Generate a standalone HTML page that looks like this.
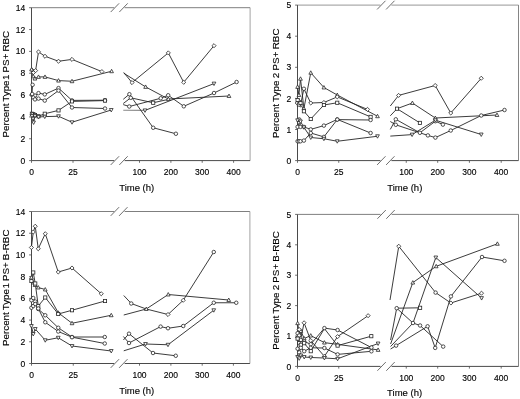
<!DOCTYPE html>
<html><head><meta charset="utf-8"><title>PS+ RBC time course</title>
<style>
html,body{margin:0;padding:0;background:#fff;}
body{width:520px;height:399px;overflow:hidden;font-family:"Liberation Sans",sans-serif;}
svg{display:block;filter:blur(0.35px);}
svg text{font-family:"Liberation Sans",sans-serif;fill:#000;stroke:#000;stroke-width:0.13px;}
.t{font-size:8.5px;}
.a{font-size:9.5px;}
</style></head><body>
<svg width="520" height="399" viewBox="0 0 520 399">
<rect width="520" height="399" fill="#fff"/>
<path d="M123.25 110.30L145.00 110.40" stroke="#8a8a8a" stroke-width="1.1"/>
<path d="M31.50 7.70H114.20M124.60 7.70H250.10" fill="none" stroke="#5e5e5e" stroke-width="0.8"/>
<path d="M250.10 7.70V160.60" fill="none" stroke="#8c8c8c" stroke-width="0.8"/>
<path d="M31.50 7.70V160.60H114.20M124.60 160.60H250.10" fill="none" stroke="#4a4a4a" stroke-width="1"/>
<path d="M110.70 12.05L119.10 3.35" stroke="#4a4a4a" stroke-width="0.8"/>
<path d="M119.30 12.05L127.70 3.35" stroke="#4a4a4a" stroke-width="0.8"/>
<path d="M110.70 164.95L119.10 156.25" stroke="#4a4a4a" stroke-width="0.8"/>
<path d="M119.30 164.95L127.70 156.25" stroke="#4a4a4a" stroke-width="0.8"/>
<path d="M29.10 160.60H31.50" stroke="#4a4a4a" stroke-width="0.8"/>
<text x="25.20" y="163.70" text-anchor="end" class="t">0</text>
<path d="M29.10 138.76H31.50" stroke="#4a4a4a" stroke-width="0.8"/>
<text x="25.20" y="141.86" text-anchor="end" class="t">2</text>
<path d="M29.10 116.92H31.50" stroke="#4a4a4a" stroke-width="0.8"/>
<text x="25.20" y="120.02" text-anchor="end" class="t">4</text>
<path d="M29.10 95.07H31.50" stroke="#4a4a4a" stroke-width="0.8"/>
<text x="25.20" y="98.17" text-anchor="end" class="t">6</text>
<path d="M29.10 73.23H31.50" stroke="#4a4a4a" stroke-width="0.8"/>
<text x="25.20" y="76.33" text-anchor="end" class="t">8</text>
<path d="M29.10 51.39H31.50" stroke="#4a4a4a" stroke-width="0.8"/>
<text x="25.20" y="54.49" text-anchor="end" class="t">10</text>
<path d="M29.10 29.55H31.50" stroke="#4a4a4a" stroke-width="0.8"/>
<text x="25.20" y="32.65" text-anchor="end" class="t">12</text>
<path d="M29.10 7.71H31.50" stroke="#4a4a4a" stroke-width="0.8"/>
<text x="25.20" y="10.81" text-anchor="end" class="t">14</text>
<path d="M31.50 160.60V162.80" stroke="#4a4a4a" stroke-width="0.8"/>
<text x="31.50" y="174.80" text-anchor="middle" class="t">0</text>
<path d="M73.00 160.60V162.80" stroke="#4a4a4a" stroke-width="0.8"/>
<text x="73.00" y="174.80" text-anchor="middle" class="t">25</text>
<path d="M139.50 160.60V162.80" stroke="#4a4a4a" stroke-width="0.8"/>
<text x="139.50" y="174.80" text-anchor="middle" class="t">100</text>
<path d="M170.90 160.60V162.80" stroke="#4a4a4a" stroke-width="0.8"/>
<text x="170.90" y="174.80" text-anchor="middle" class="t">200</text>
<path d="M202.20 160.60V162.80" stroke="#4a4a4a" stroke-width="0.8"/>
<text x="202.20" y="174.80" text-anchor="middle" class="t">300</text>
<path d="M233.60 160.60V162.80" stroke="#4a4a4a" stroke-width="0.8"/>
<text x="233.60" y="174.80" text-anchor="middle" class="t">400</text>
<text x="136.70" y="190.90" text-anchor="middle" class="a">Time (h)</text>
<text transform="translate(9.00 84.15) rotate(-90)" text-anchor="middle" class="a" style="font-size:9.85px;word-spacing:-0.70px">Percent Type<tspan dx="-1.6"> 1</tspan> PS+ RBC</text>
<path d="M31.90 70.00L33.40 72.60L35.60 70.60L38.50 51.90L45.00 56.25L58.50 61.25L72.00 59.40L101.90 71.60" fill="none" stroke="#262626" stroke-width="0.90" stroke-linejoin="round"/>
<path d="M31.60 69.50L33.30 76.40L34.90 78.60L38.50 76.90L45.00 76.90L58.50 80.60L72.00 81.25L111.60 71.25" fill="none" stroke="#262626" stroke-width="0.90" stroke-linejoin="round"/>
<path d="M32.60 84.80L31.90 95.00L35.00 95.60L38.50 93.10L44.75 94.40L58.50 88.10L72.00 100.40L105.00 100.20" fill="none" stroke="#262626" stroke-width="0.90" stroke-linejoin="round"/>
<path d="M32.20 94.00L33.40 97.50L35.00 99.40L38.50 98.60L44.75 100.60L58.50 90.60L72.00 107.50L105.00 108.50" fill="none" stroke="#262626" stroke-width="0.90" stroke-linejoin="round"/>
<path d="M31.90 113.75L33.40 114.20L35.00 115.00L38.50 116.25L44.75 113.75L58.50 110.40L72.00 101.40L105.00 100.60" fill="none" stroke="#262626" stroke-width="0.90" stroke-linejoin="round"/>
<path d="M32.00 116.00L33.00 118.75L33.60 122.50L35.00 116.00L38.50 117.00L44.75 116.60L58.50 116.25L72.00 122.25L111.25 110.00" fill="none" stroke="#262626" stroke-width="0.90" stroke-linejoin="round"/>
<path d="M123.75 72.50L132.00 82.60L168.30 52.90L183.70 82.30L214.00 45.70" fill="none" stroke="#262626" stroke-width="0.90" stroke-linejoin="round"/>
<path d="M123.75 73.20L145.60 86.90L168.30 99.00L229.00 96.00" fill="none" stroke="#262626" stroke-width="0.90" stroke-linejoin="round"/>
<path d="M123.25 99.30L129.40 94.20L153.20 127.75L175.90 133.75" fill="none" stroke="#262626" stroke-width="0.90" stroke-linejoin="round"/>
<path d="M123.25 103.50L130.75 97.80L153.20 102.75L168.30 99.40" fill="none" stroke="#262626" stroke-width="0.90" stroke-linejoin="round"/>
<path d="M123.25 104.60L129.25 106.50L160.75 98.25L168.20 95.25L183.80 106.30L214.00 93.00L236.60 82.00" fill="none" stroke="#262626" stroke-width="0.90" stroke-linejoin="round"/>
<path d="M145.00 110.40L214.00 83.60" fill="none" stroke="#262626" stroke-width="0.90" stroke-linejoin="round"/>
<path d="M31.90 67.95L33.95 70.00L31.90 72.05L29.85 70.00Z" fill="#fff" stroke="#262626" stroke-width="0.80"/>
<path d="M33.40 70.55L35.45 72.60L33.40 74.65L31.35 72.60Z" fill="#fff" stroke="#262626" stroke-width="0.80"/>
<path d="M35.60 68.55L37.65 70.60L35.60 72.65L33.55 70.60Z" fill="#fff" stroke="#262626" stroke-width="0.80"/>
<path d="M38.50 49.85L40.55 51.90L38.50 53.95L36.45 51.90Z" fill="#fff" stroke="#262626" stroke-width="0.80"/>
<path d="M45.00 54.20L47.05 56.25L45.00 58.30L42.95 56.25Z" fill="#fff" stroke="#262626" stroke-width="0.80"/>
<path d="M58.50 59.20L60.55 61.25L58.50 63.30L56.45 61.25Z" fill="#fff" stroke="#262626" stroke-width="0.80"/>
<path d="M72.00 57.35L74.05 59.40L72.00 61.45L69.95 59.40Z" fill="#fff" stroke="#262626" stroke-width="0.80"/>
<path d="M101.90 69.55L103.95 71.60L101.90 73.65L99.85 71.60Z" fill="#fff" stroke="#262626" stroke-width="0.80"/>
<path d="M31.60 67.55L33.45 70.96L29.75 70.96Z" fill="#fff" stroke="#262626" stroke-width="0.80"/>
<path d="M33.30 74.45L35.15 77.86L31.45 77.86Z" fill="#fff" stroke="#262626" stroke-width="0.80"/>
<path d="M34.90 76.65L36.75 80.06L33.05 80.06Z" fill="#fff" stroke="#262626" stroke-width="0.80"/>
<path d="M38.50 74.95L40.35 78.36L36.65 78.36Z" fill="#fff" stroke="#262626" stroke-width="0.80"/>
<path d="M45.00 74.95L46.85 78.36L43.15 78.36Z" fill="#fff" stroke="#262626" stroke-width="0.80"/>
<path d="M58.50 78.65L60.35 82.06L56.65 82.06Z" fill="#fff" stroke="#262626" stroke-width="0.80"/>
<path d="M72.00 79.30L73.85 82.71L70.15 82.71Z" fill="#fff" stroke="#262626" stroke-width="0.80"/>
<path d="M111.60 69.30L113.45 72.71L109.75 72.71Z" fill="#fff" stroke="#262626" stroke-width="0.80"/>
<circle cx="32.60" cy="84.80" r="1.75" fill="#fff" stroke="#262626" stroke-width="0.80"/>
<circle cx="31.90" cy="95.00" r="1.75" fill="#fff" stroke="#262626" stroke-width="0.80"/>
<circle cx="35.00" cy="95.60" r="1.75" fill="#fff" stroke="#262626" stroke-width="0.80"/>
<circle cx="38.50" cy="93.10" r="1.75" fill="#fff" stroke="#262626" stroke-width="0.80"/>
<circle cx="44.75" cy="94.40" r="1.75" fill="#fff" stroke="#262626" stroke-width="0.80"/>
<circle cx="58.50" cy="88.10" r="1.75" fill="#fff" stroke="#262626" stroke-width="0.80"/>
<circle cx="72.00" cy="100.40" r="1.75" fill="#fff" stroke="#262626" stroke-width="0.80"/>
<circle cx="105.00" cy="100.20" r="1.75" fill="#fff" stroke="#262626" stroke-width="0.80"/>
<circle cx="32.20" cy="94.00" r="1.75" fill="#fff" stroke="#262626" stroke-width="0.80"/>
<circle cx="33.40" cy="97.50" r="1.75" fill="#fff" stroke="#262626" stroke-width="0.80"/>
<circle cx="35.00" cy="99.40" r="1.75" fill="#fff" stroke="#262626" stroke-width="0.80"/>
<circle cx="38.50" cy="98.60" r="1.75" fill="#fff" stroke="#262626" stroke-width="0.80"/>
<circle cx="44.75" cy="100.60" r="1.75" fill="#fff" stroke="#262626" stroke-width="0.80"/>
<circle cx="58.50" cy="90.60" r="1.75" fill="#fff" stroke="#262626" stroke-width="0.80"/>
<circle cx="72.00" cy="107.50" r="1.75" fill="#fff" stroke="#262626" stroke-width="0.80"/>
<circle cx="105.00" cy="108.50" r="1.75" fill="#fff" stroke="#262626" stroke-width="0.80"/>
<rect x="30.30" y="112.15" width="3.20" height="3.20" fill="#fff" stroke="#262626" stroke-width="0.80"/>
<rect x="31.80" y="112.60" width="3.20" height="3.20" fill="#fff" stroke="#262626" stroke-width="0.80"/>
<rect x="33.40" y="113.40" width="3.20" height="3.20" fill="#fff" stroke="#262626" stroke-width="0.80"/>
<rect x="36.90" y="114.65" width="3.20" height="3.20" fill="#fff" stroke="#262626" stroke-width="0.80"/>
<rect x="43.15" y="112.15" width="3.20" height="3.20" fill="#fff" stroke="#262626" stroke-width="0.80"/>
<rect x="56.90" y="108.80" width="3.20" height="3.20" fill="#fff" stroke="#262626" stroke-width="0.80"/>
<rect x="70.40" y="99.80" width="3.20" height="3.20" fill="#fff" stroke="#262626" stroke-width="0.80"/>
<rect x="103.40" y="99.00" width="3.20" height="3.20" fill="#fff" stroke="#262626" stroke-width="0.80"/>
<path d="M32.00 117.95L33.85 114.54L30.15 114.54Z" fill="#fff" stroke="#262626" stroke-width="0.80"/>
<path d="M33.00 120.70L34.85 117.29L31.15 117.29Z" fill="#fff" stroke="#262626" stroke-width="0.80"/>
<path d="M33.60 124.45L35.45 121.04L31.75 121.04Z" fill="#fff" stroke="#262626" stroke-width="0.80"/>
<path d="M35.00 117.95L36.85 114.54L33.15 114.54Z" fill="#fff" stroke="#262626" stroke-width="0.80"/>
<path d="M38.50 118.95L40.35 115.54L36.65 115.54Z" fill="#fff" stroke="#262626" stroke-width="0.80"/>
<path d="M44.75 118.55L46.60 115.14L42.90 115.14Z" fill="#fff" stroke="#262626" stroke-width="0.80"/>
<path d="M58.50 118.20L60.35 114.79L56.65 114.79Z" fill="#fff" stroke="#262626" stroke-width="0.80"/>
<path d="M72.00 124.20L73.85 120.79L70.15 120.79Z" fill="#fff" stroke="#262626" stroke-width="0.80"/>
<path d="M111.25 111.95L113.10 108.54L109.40 108.54Z" fill="#fff" stroke="#262626" stroke-width="0.80"/>
<path d="M132.00 80.55L134.05 82.60L132.00 84.65L129.95 82.60Z" fill="#fff" stroke="#262626" stroke-width="0.80"/>
<path d="M168.30 50.85L170.35 52.90L168.30 54.95L166.25 52.90Z" fill="#fff" stroke="#262626" stroke-width="0.80"/>
<path d="M183.70 80.25L185.75 82.30L183.70 84.35L181.65 82.30Z" fill="#fff" stroke="#262626" stroke-width="0.80"/>
<path d="M214.00 43.65L216.05 45.70L214.00 47.75L211.95 45.70Z" fill="#fff" stroke="#262626" stroke-width="0.80"/>
<path d="M145.60 84.95L147.45 88.36L143.75 88.36Z" fill="#fff" stroke="#262626" stroke-width="0.80"/>
<path d="M168.30 97.05L170.15 100.46L166.45 100.46Z" fill="#fff" stroke="#262626" stroke-width="0.80"/>
<path d="M229.00 94.05L230.85 97.46L227.15 97.46Z" fill="#fff" stroke="#262626" stroke-width="0.80"/>
<circle cx="129.40" cy="94.20" r="1.75" fill="#fff" stroke="#262626" stroke-width="0.80"/>
<circle cx="153.20" cy="127.75" r="1.75" fill="#fff" stroke="#262626" stroke-width="0.80"/>
<circle cx="175.90" cy="133.75" r="1.75" fill="#fff" stroke="#262626" stroke-width="0.80"/>
<circle cx="130.75" cy="97.80" r="1.75" fill="#fff" stroke="#262626" stroke-width="0.80"/>
<rect x="151.60" y="101.15" width="3.20" height="3.20" fill="#fff" stroke="#262626" stroke-width="0.80"/>
<circle cx="129.25" cy="106.50" r="1.75" fill="#fff" stroke="#262626" stroke-width="0.80"/>
<circle cx="160.75" cy="98.25" r="1.75" fill="#fff" stroke="#262626" stroke-width="0.80"/>
<circle cx="168.20" cy="95.25" r="1.75" fill="#fff" stroke="#262626" stroke-width="0.80"/>
<circle cx="183.80" cy="106.30" r="1.75" fill="#fff" stroke="#262626" stroke-width="0.80"/>
<circle cx="214.00" cy="93.00" r="1.75" fill="#fff" stroke="#262626" stroke-width="0.80"/>
<circle cx="236.60" cy="82.00" r="1.75" fill="#fff" stroke="#262626" stroke-width="0.80"/>
<path d="M145.00 112.35L146.85 108.94L143.15 108.94Z" fill="#fff" stroke="#262626" stroke-width="0.80"/>
<path d="M214.00 85.55L215.85 82.14L212.15 82.14Z" fill="#fff" stroke="#262626" stroke-width="0.80"/>
<path d="M297.50 5.10H380.40M391.40 5.10H518.50" fill="none" stroke="#7c7c7c" stroke-width="0.8"/>
<path d="M518.50 5.10V160.60" fill="none" stroke="#666" stroke-width="0.8"/>
<path d="M297.50 5.10V160.60H380.40M391.40 160.60H518.50" fill="none" stroke="#4a4a4a" stroke-width="1"/>
<path d="M377.10 9.45L385.50 0.75" stroke="#4a4a4a" stroke-width="0.8"/>
<path d="M386.10 9.45L394.50 0.75" stroke="#4a4a4a" stroke-width="0.8"/>
<path d="M377.10 164.95L385.50 156.25" stroke="#4a4a4a" stroke-width="0.8"/>
<path d="M386.10 164.95L394.50 156.25" stroke="#4a4a4a" stroke-width="0.8"/>
<path d="M295.10 160.60H297.50" stroke="#4a4a4a" stroke-width="0.8"/>
<text x="291.20" y="163.70" text-anchor="end" class="t">0</text>
<path d="M295.10 129.50H297.50" stroke="#4a4a4a" stroke-width="0.8"/>
<text x="291.20" y="132.60" text-anchor="end" class="t">1</text>
<path d="M295.10 98.40H297.50" stroke="#4a4a4a" stroke-width="0.8"/>
<text x="291.20" y="101.50" text-anchor="end" class="t">2</text>
<path d="M295.10 67.30H297.50" stroke="#4a4a4a" stroke-width="0.8"/>
<text x="291.20" y="70.40" text-anchor="end" class="t">3</text>
<path d="M295.10 36.20H297.50" stroke="#4a4a4a" stroke-width="0.8"/>
<text x="291.20" y="39.30" text-anchor="end" class="t">4</text>
<path d="M295.10 5.10H297.50" stroke="#4a4a4a" stroke-width="0.8"/>
<text x="291.20" y="8.20" text-anchor="end" class="t">5</text>
<path d="M297.50 160.60V162.80" stroke="#4a4a4a" stroke-width="0.8"/>
<text x="297.50" y="174.90" text-anchor="middle" class="t">0</text>
<path d="M338.75 160.60V162.80" stroke="#4a4a4a" stroke-width="0.8"/>
<text x="338.75" y="174.90" text-anchor="middle" class="t">25</text>
<path d="M406.25 160.60V162.80" stroke="#4a4a4a" stroke-width="0.8"/>
<text x="406.25" y="174.90" text-anchor="middle" class="t">100</text>
<path d="M437.70 160.60V162.80" stroke="#4a4a4a" stroke-width="0.8"/>
<text x="437.70" y="174.90" text-anchor="middle" class="t">200</text>
<path d="M469.40 160.60V162.80" stroke="#4a4a4a" stroke-width="0.8"/>
<text x="469.40" y="174.90" text-anchor="middle" class="t">300</text>
<path d="M501.20 160.60V162.80" stroke="#4a4a4a" stroke-width="0.8"/>
<text x="501.20" y="174.90" text-anchor="middle" class="t">400</text>
<text x="404.80" y="190.90" text-anchor="middle" class="a">Time (h)</text>
<text transform="translate(279.30 83.25) rotate(-90)" text-anchor="middle" class="a" style="font-size:9.85px;word-spacing:-0.40px">Percent Type 2 PS+ RBC</text>
<path d="M297.60 86.90L298.90 95.00L300.50 78.75L303.90 108.50L310.75 72.75L323.90 87.50L337.25 95.00L377.50 116.25" fill="none" stroke="#262626" stroke-width="0.90" stroke-linejoin="round"/>
<path d="M297.20 103.00L298.90 101.00L300.50 105.00L303.90 88.75L310.75 103.00L323.90 102.50L337.25 96.90L367.50 109.40" fill="none" stroke="#262626" stroke-width="0.90" stroke-linejoin="round"/>
<path d="M297.60 100.00L298.90 104.50L300.50 103.00L303.90 111.25L310.75 119.00L323.90 105.00L337.25 102.75L370.60 116.90" fill="none" stroke="#262626" stroke-width="0.90" stroke-linejoin="round"/>
<path d="M297.60 126.90L299.30 119.50L300.50 126.90L303.90 126.90L310.75 129.40L323.90 125.60L337.25 119.40L370.60 133.00" fill="none" stroke="#262626" stroke-width="0.90" stroke-linejoin="round"/>
<path d="M297.60 141.25L299.00 141.30L300.50 141.25L303.90 140.60L310.75 133.00L323.90 136.90L337.25 119.60L370.60 120.00" fill="none" stroke="#262626" stroke-width="0.90" stroke-linejoin="round"/>
<path d="M297.60 120.30L298.90 123.00L300.50 121.50L303.90 127.30L310.75 137.50L323.90 138.75L337.25 141.25L377.50 136.25" fill="none" stroke="#262626" stroke-width="0.90" stroke-linejoin="round"/>
<path d="M390.30 106.00L398.60 95.40L435.20 85.50L450.75 113.00L481.25 78.25" fill="none" stroke="#262626" stroke-width="0.90" stroke-linejoin="round"/>
<path d="M397.00 108.70L412.40 103.00L435.30 118.00L497.00 115.00" fill="none" stroke="#262626" stroke-width="0.90" stroke-linejoin="round"/>
<path d="M390.30 115.80L397.00 108.70L419.90 122.90" fill="none" stroke="#262626" stroke-width="0.90" stroke-linejoin="round"/>
<path d="M390.30 129.40L395.80 119.30L419.90 132.80L427.90 135.40L435.40 137.60L450.75 130.50L481.25 115.50L504.50 110.00" fill="none" stroke="#262626" stroke-width="0.90" stroke-linejoin="round"/>
<path d="M390.30 121.50L395.80 124.80L419.90 132.80L435.40 121.20L442.90 124.60" fill="none" stroke="#262626" stroke-width="0.90" stroke-linejoin="round"/>
<path d="M390.30 136.10L412.10 134.60L435.40 120.20L481.25 134.50" fill="none" stroke="#262626" stroke-width="0.90" stroke-linejoin="round"/>
<path d="M297.60 84.95L299.45 88.36L295.75 88.36Z" fill="#fff" stroke="#262626" stroke-width="0.80"/>
<path d="M298.90 93.05L300.75 96.46L297.05 96.46Z" fill="#fff" stroke="#262626" stroke-width="0.80"/>
<path d="M300.50 76.80L302.35 80.21L298.65 80.21Z" fill="#fff" stroke="#262626" stroke-width="0.80"/>
<path d="M303.90 106.55L305.75 109.96L302.05 109.96Z" fill="#fff" stroke="#262626" stroke-width="0.80"/>
<path d="M310.75 70.80L312.60 74.21L308.90 74.21Z" fill="#fff" stroke="#262626" stroke-width="0.80"/>
<path d="M323.90 85.55L325.75 88.96L322.05 88.96Z" fill="#fff" stroke="#262626" stroke-width="0.80"/>
<path d="M337.25 93.05L339.10 96.46L335.40 96.46Z" fill="#fff" stroke="#262626" stroke-width="0.80"/>
<path d="M377.50 114.30L379.35 117.71L375.65 117.71Z" fill="#fff" stroke="#262626" stroke-width="0.80"/>
<path d="M297.20 100.95L299.25 103.00L297.20 105.05L295.15 103.00Z" fill="#fff" stroke="#262626" stroke-width="0.80"/>
<path d="M298.90 98.95L300.95 101.00L298.90 103.05L296.85 101.00Z" fill="#fff" stroke="#262626" stroke-width="0.80"/>
<path d="M300.50 102.95L302.55 105.00L300.50 107.05L298.45 105.00Z" fill="#fff" stroke="#262626" stroke-width="0.80"/>
<circle cx="303.90" cy="88.75" r="1.75" fill="#fff" stroke="#262626" stroke-width="0.80"/>
<path d="M310.75 100.95L312.80 103.00L310.75 105.05L308.70 103.00Z" fill="#fff" stroke="#262626" stroke-width="0.80"/>
<path d="M323.90 100.45L325.95 102.50L323.90 104.55L321.85 102.50Z" fill="#fff" stroke="#262626" stroke-width="0.80"/>
<path d="M337.25 94.85L339.30 96.90L337.25 98.95L335.20 96.90Z" fill="#fff" stroke="#262626" stroke-width="0.80"/>
<path d="M367.50 107.35L369.55 109.40L367.50 111.45L365.45 109.40Z" fill="#fff" stroke="#262626" stroke-width="0.80"/>
<rect x="296.00" y="98.40" width="3.20" height="3.20" fill="#fff" stroke="#262626" stroke-width="0.80"/>
<rect x="297.30" y="102.90" width="3.20" height="3.20" fill="#fff" stroke="#262626" stroke-width="0.80"/>
<rect x="298.90" y="101.40" width="3.20" height="3.20" fill="#fff" stroke="#262626" stroke-width="0.80"/>
<rect x="302.30" y="109.65" width="3.20" height="3.20" fill="#fff" stroke="#262626" stroke-width="0.80"/>
<rect x="309.15" y="117.40" width="3.20" height="3.20" fill="#fff" stroke="#262626" stroke-width="0.80"/>
<rect x="322.30" y="103.40" width="3.20" height="3.20" fill="#fff" stroke="#262626" stroke-width="0.80"/>
<rect x="335.65" y="101.15" width="3.20" height="3.20" fill="#fff" stroke="#262626" stroke-width="0.80"/>
<rect x="369.00" y="115.30" width="3.20" height="3.20" fill="#fff" stroke="#262626" stroke-width="0.80"/>
<circle cx="297.60" cy="126.90" r="1.75" fill="#fff" stroke="#262626" stroke-width="0.80"/>
<circle cx="299.30" cy="119.50" r="1.75" fill="#fff" stroke="#262626" stroke-width="0.80"/>
<circle cx="300.50" cy="126.90" r="1.75" fill="#fff" stroke="#262626" stroke-width="0.80"/>
<circle cx="303.90" cy="126.90" r="1.75" fill="#fff" stroke="#262626" stroke-width="0.80"/>
<circle cx="310.75" cy="129.40" r="1.75" fill="#fff" stroke="#262626" stroke-width="0.80"/>
<circle cx="323.90" cy="125.60" r="1.75" fill="#fff" stroke="#262626" stroke-width="0.80"/>
<circle cx="337.25" cy="119.40" r="1.75" fill="#fff" stroke="#262626" stroke-width="0.80"/>
<circle cx="370.60" cy="133.00" r="1.75" fill="#fff" stroke="#262626" stroke-width="0.80"/>
<circle cx="297.60" cy="141.25" r="1.75" fill="#fff" stroke="#262626" stroke-width="0.80"/>
<circle cx="299.00" cy="141.30" r="1.75" fill="#fff" stroke="#262626" stroke-width="0.80"/>
<circle cx="300.50" cy="141.25" r="1.75" fill="#fff" stroke="#262626" stroke-width="0.80"/>
<circle cx="303.90" cy="140.60" r="1.75" fill="#fff" stroke="#262626" stroke-width="0.80"/>
<circle cx="310.75" cy="133.00" r="1.75" fill="#fff" stroke="#262626" stroke-width="0.80"/>
<circle cx="323.90" cy="136.90" r="1.75" fill="#fff" stroke="#262626" stroke-width="0.80"/>
<circle cx="337.25" cy="119.60" r="1.75" fill="#fff" stroke="#262626" stroke-width="0.80"/>
<circle cx="370.60" cy="120.00" r="1.75" fill="#fff" stroke="#262626" stroke-width="0.80"/>
<path d="M297.60 122.25L299.45 118.84L295.75 118.84Z" fill="#fff" stroke="#262626" stroke-width="0.80"/>
<path d="M298.90 124.95L300.75 121.54L297.05 121.54Z" fill="#fff" stroke="#262626" stroke-width="0.80"/>
<path d="M300.50 123.45L302.35 120.04L298.65 120.04Z" fill="#fff" stroke="#262626" stroke-width="0.80"/>
<path d="M303.90 129.25L305.75 125.84L302.05 125.84Z" fill="#fff" stroke="#262626" stroke-width="0.80"/>
<path d="M310.75 139.45L312.60 136.04L308.90 136.04Z" fill="#fff" stroke="#262626" stroke-width="0.80"/>
<path d="M323.90 140.70L325.75 137.29L322.05 137.29Z" fill="#fff" stroke="#262626" stroke-width="0.80"/>
<path d="M337.25 143.20L339.10 139.79L335.40 139.79Z" fill="#fff" stroke="#262626" stroke-width="0.80"/>
<path d="M377.50 138.20L379.35 134.79L375.65 134.79Z" fill="#fff" stroke="#262626" stroke-width="0.80"/>
<path d="M398.60 93.35L400.65 95.40L398.60 97.45L396.55 95.40Z" fill="#fff" stroke="#262626" stroke-width="0.80"/>
<path d="M435.20 83.45L437.25 85.50L435.20 87.55L433.15 85.50Z" fill="#fff" stroke="#262626" stroke-width="0.80"/>
<path d="M450.75 110.95L452.80 113.00L450.75 115.05L448.70 113.00Z" fill="#fff" stroke="#262626" stroke-width="0.80"/>
<path d="M481.25 76.20L483.30 78.25L481.25 80.30L479.20 78.25Z" fill="#fff" stroke="#262626" stroke-width="0.80"/>
<path d="M412.40 101.05L414.25 104.46L410.55 104.46Z" fill="#fff" stroke="#262626" stroke-width="0.80"/>
<path d="M435.30 116.05L437.15 119.46L433.45 119.46Z" fill="#fff" stroke="#262626" stroke-width="0.80"/>
<path d="M497.00 113.05L498.85 116.46L495.15 116.46Z" fill="#fff" stroke="#262626" stroke-width="0.80"/>
<rect x="395.40" y="107.10" width="3.20" height="3.20" fill="#fff" stroke="#262626" stroke-width="0.80"/>
<rect x="418.30" y="121.30" width="3.20" height="3.20" fill="#fff" stroke="#262626" stroke-width="0.80"/>
<circle cx="395.80" cy="119.30" r="1.75" fill="#fff" stroke="#262626" stroke-width="0.80"/>
<circle cx="419.90" cy="132.80" r="1.75" fill="#fff" stroke="#262626" stroke-width="0.80"/>
<circle cx="427.90" cy="135.40" r="1.75" fill="#fff" stroke="#262626" stroke-width="0.80"/>
<circle cx="435.40" cy="137.60" r="1.75" fill="#fff" stroke="#262626" stroke-width="0.80"/>
<circle cx="450.75" cy="130.50" r="1.75" fill="#fff" stroke="#262626" stroke-width="0.80"/>
<circle cx="481.25" cy="115.50" r="1.75" fill="#fff" stroke="#262626" stroke-width="0.80"/>
<circle cx="504.50" cy="110.00" r="1.75" fill="#fff" stroke="#262626" stroke-width="0.80"/>
<circle cx="395.80" cy="124.80" r="1.75" fill="#fff" stroke="#262626" stroke-width="0.80"/>
<circle cx="435.40" cy="121.20" r="1.75" fill="#fff" stroke="#262626" stroke-width="0.80"/>
<circle cx="442.90" cy="124.60" r="1.75" fill="#fff" stroke="#262626" stroke-width="0.80"/>
<path d="M412.10 136.55L413.95 133.14L410.25 133.14Z" fill="#fff" stroke="#262626" stroke-width="0.80"/>
<path d="M435.40 122.15L437.25 118.74L433.55 118.74Z" fill="#fff" stroke="#262626" stroke-width="0.80"/>
<path d="M481.25 136.45L483.10 133.04L479.40 133.04Z" fill="#fff" stroke="#262626" stroke-width="0.80"/>
<path d="M31.50 211.50H114.20M124.60 211.50H249.90" fill="none" stroke="#5e5e5e" stroke-width="0.8"/>
<path d="M249.90 211.50V363.50" fill="none" stroke="#8c8c8c" stroke-width="0.8"/>
<path d="M31.50 211.50V363.50H114.20M124.60 363.50H249.90" fill="none" stroke="#4a4a4a" stroke-width="1"/>
<path d="M110.70 215.85L119.10 207.15" stroke="#4a4a4a" stroke-width="0.8"/>
<path d="M119.10 215.85L127.50 207.15" stroke="#4a4a4a" stroke-width="0.8"/>
<path d="M110.70 367.85L119.10 359.15" stroke="#4a4a4a" stroke-width="0.8"/>
<path d="M119.10 367.85L127.50 359.15" stroke="#4a4a4a" stroke-width="0.8"/>
<path d="M29.10 363.50H31.50" stroke="#4a4a4a" stroke-width="0.8"/>
<text x="25.20" y="366.60" text-anchor="end" class="t">0</text>
<path d="M29.10 341.79H31.50" stroke="#4a4a4a" stroke-width="0.8"/>
<text x="25.20" y="344.89" text-anchor="end" class="t">2</text>
<path d="M29.10 320.07H31.50" stroke="#4a4a4a" stroke-width="0.8"/>
<text x="25.20" y="323.17" text-anchor="end" class="t">4</text>
<path d="M29.10 298.36H31.50" stroke="#4a4a4a" stroke-width="0.8"/>
<text x="25.20" y="301.46" text-anchor="end" class="t">6</text>
<path d="M29.10 276.64H31.50" stroke="#4a4a4a" stroke-width="0.8"/>
<text x="25.20" y="279.74" text-anchor="end" class="t">8</text>
<path d="M29.10 254.93H31.50" stroke="#4a4a4a" stroke-width="0.8"/>
<text x="25.20" y="258.03" text-anchor="end" class="t">10</text>
<path d="M29.10 233.22H31.50" stroke="#4a4a4a" stroke-width="0.8"/>
<text x="25.20" y="236.32" text-anchor="end" class="t">12</text>
<path d="M29.10 211.50H31.50" stroke="#4a4a4a" stroke-width="0.8"/>
<text x="25.20" y="214.60" text-anchor="end" class="t">14</text>
<path d="M31.50 363.50V365.70" stroke="#4a4a4a" stroke-width="0.8"/>
<text x="31.50" y="377.50" text-anchor="middle" class="t">0</text>
<path d="M73.25 363.50V365.70" stroke="#4a4a4a" stroke-width="0.8"/>
<text x="73.25" y="377.50" text-anchor="middle" class="t">25</text>
<path d="M139.50 363.50V365.70" stroke="#4a4a4a" stroke-width="0.8"/>
<text x="139.50" y="377.50" text-anchor="middle" class="t">100</text>
<path d="M170.90 363.50V365.70" stroke="#4a4a4a" stroke-width="0.8"/>
<text x="170.90" y="377.50" text-anchor="middle" class="t">200</text>
<path d="M202.20 363.50V365.70" stroke="#4a4a4a" stroke-width="0.8"/>
<text x="202.20" y="377.50" text-anchor="middle" class="t">300</text>
<path d="M233.40 363.50V365.70" stroke="#4a4a4a" stroke-width="0.8"/>
<text x="233.40" y="377.50" text-anchor="middle" class="t">400</text>
<text x="136.70" y="393.60" text-anchor="middle" class="a">Time (h)</text>
<text transform="translate(9.00 287.80) rotate(-90)" text-anchor="middle" class="a" style="font-size:9.85px;word-spacing:-0.70px">Percent Type<tspan dx="-1.6"> 1</tspan> PS+ B-RBC</text>
<path d="M31.40 247.50L33.25 232.00L35.25 226.25L38.25 248.75L45.25 233.75L58.25 272.00L72.00 268.00L101.25 293.75" fill="none" stroke="#262626" stroke-width="0.90" stroke-linejoin="round"/>
<path d="M31.40 277.50L33.25 282.50L35.00 285.00L38.25 287.50L45.25 289.50L58.25 312.75L72.00 323.25L111.25 315.25" fill="none" stroke="#262626" stroke-width="0.90" stroke-linejoin="round"/>
<path d="M31.40 281.00L33.25 272.50L35.25 283.50L38.25 306.00L45.25 297.50L58.25 314.00L72.00 310.25L105.00 301.00" fill="none" stroke="#262626" stroke-width="0.90" stroke-linejoin="round"/>
<path d="M31.40 300.25L33.25 298.00L35.25 301.50L38.25 309.00L45.25 315.25L58.25 327.75L72.00 337.00L104.75 337.00" fill="none" stroke="#262626" stroke-width="0.90" stroke-linejoin="round"/>
<path d="M31.40 307.75L33.25 306.00L35.25 304.00L38.25 308.50L45.25 322.25L58.25 331.50L72.00 337.20L104.75 343.50" fill="none" stroke="#262626" stroke-width="0.90" stroke-linejoin="round"/>
<path d="M31.40 326.00L33.25 334.00L35.25 329.00L45.25 340.25L58.25 337.75L72.00 346.00L111.25 351.00" fill="none" stroke="#262626" stroke-width="0.90" stroke-linejoin="round"/>
<path d="M123.75 295.50L131.25 303.50L146.25 309.00L168.00 314.50L183.25 300.25L213.75 252.00" fill="none" stroke="#262626" stroke-width="0.90" stroke-linejoin="round"/>
<path d="M123.75 315.00L146.25 309.00L168.25 294.50L228.75 300.00" fill="none" stroke="#262626" stroke-width="0.90" stroke-linejoin="round"/>
<path d="M123.40 340.00L129.00 333.70L153.00 353.00L175.75 355.75" fill="none" stroke="#262626" stroke-width="0.90" stroke-linejoin="round"/>
<path d="M123.40 336.50L129.00 343.00L160.60 326.60L168.00 328.25L183.25 326.00L213.75 302.75L236.25 302.75" fill="none" stroke="#262626" stroke-width="0.90" stroke-linejoin="round"/>
<path d="M123.75 350.80L145.50 344.00L168.00 344.75L213.75 310.25" fill="none" stroke="#262626" stroke-width="0.90" stroke-linejoin="round"/>
<path d="M31.40 245.45L33.45 247.50L31.40 249.55L29.35 247.50Z" fill="#fff" stroke="#262626" stroke-width="0.80"/>
<path d="M33.25 229.95L35.30 232.00L33.25 234.05L31.20 232.00Z" fill="#fff" stroke="#262626" stroke-width="0.80"/>
<path d="M35.25 224.20L37.30 226.25L35.25 228.30L33.20 226.25Z" fill="#fff" stroke="#262626" stroke-width="0.80"/>
<path d="M38.25 246.70L40.30 248.75L38.25 250.80L36.20 248.75Z" fill="#fff" stroke="#262626" stroke-width="0.80"/>
<path d="M45.25 231.70L47.30 233.75L45.25 235.80L43.20 233.75Z" fill="#fff" stroke="#262626" stroke-width="0.80"/>
<path d="M58.25 269.95L60.30 272.00L58.25 274.05L56.20 272.00Z" fill="#fff" stroke="#262626" stroke-width="0.80"/>
<path d="M72.00 265.95L74.05 268.00L72.00 270.05L69.95 268.00Z" fill="#fff" stroke="#262626" stroke-width="0.80"/>
<path d="M101.25 291.70L103.30 293.75L101.25 295.80L99.20 293.75Z" fill="#fff" stroke="#262626" stroke-width="0.80"/>
<path d="M31.40 275.55L33.25 278.96L29.55 278.96Z" fill="#fff" stroke="#262626" stroke-width="0.80"/>
<path d="M33.25 280.55L35.10 283.96L31.40 283.96Z" fill="#fff" stroke="#262626" stroke-width="0.80"/>
<path d="M35.00 283.05L36.85 286.46L33.15 286.46Z" fill="#fff" stroke="#262626" stroke-width="0.80"/>
<path d="M38.25 285.55L40.10 288.96L36.40 288.96Z" fill="#fff" stroke="#262626" stroke-width="0.80"/>
<path d="M45.25 287.55L47.10 290.96L43.40 290.96Z" fill="#fff" stroke="#262626" stroke-width="0.80"/>
<path d="M58.25 310.80L60.10 314.21L56.40 314.21Z" fill="#fff" stroke="#262626" stroke-width="0.80"/>
<path d="M72.00 321.30L73.85 324.71L70.15 324.71Z" fill="#fff" stroke="#262626" stroke-width="0.80"/>
<path d="M111.25 313.30L113.10 316.71L109.40 316.71Z" fill="#fff" stroke="#262626" stroke-width="0.80"/>
<rect x="29.80" y="279.40" width="3.20" height="3.20" fill="#fff" stroke="#262626" stroke-width="0.80"/>
<rect x="31.65" y="270.90" width="3.20" height="3.20" fill="#fff" stroke="#262626" stroke-width="0.80"/>
<rect x="33.65" y="281.90" width="3.20" height="3.20" fill="#fff" stroke="#262626" stroke-width="0.80"/>
<rect x="36.65" y="304.40" width="3.20" height="3.20" fill="#fff" stroke="#262626" stroke-width="0.80"/>
<rect x="43.65" y="295.90" width="3.20" height="3.20" fill="#fff" stroke="#262626" stroke-width="0.80"/>
<rect x="56.65" y="312.40" width="3.20" height="3.20" fill="#fff" stroke="#262626" stroke-width="0.80"/>
<rect x="70.40" y="308.65" width="3.20" height="3.20" fill="#fff" stroke="#262626" stroke-width="0.80"/>
<rect x="103.40" y="299.40" width="3.20" height="3.20" fill="#fff" stroke="#262626" stroke-width="0.80"/>
<circle cx="31.40" cy="300.25" r="1.75" fill="#fff" stroke="#262626" stroke-width="0.80"/>
<circle cx="33.25" cy="298.00" r="1.75" fill="#fff" stroke="#262626" stroke-width="0.80"/>
<circle cx="35.25" cy="301.50" r="1.75" fill="#fff" stroke="#262626" stroke-width="0.80"/>
<circle cx="38.25" cy="309.00" r="1.75" fill="#fff" stroke="#262626" stroke-width="0.80"/>
<circle cx="45.25" cy="315.25" r="1.75" fill="#fff" stroke="#262626" stroke-width="0.80"/>
<circle cx="58.25" cy="327.75" r="1.75" fill="#fff" stroke="#262626" stroke-width="0.80"/>
<circle cx="72.00" cy="337.00" r="1.75" fill="#fff" stroke="#262626" stroke-width="0.80"/>
<circle cx="104.75" cy="337.00" r="1.75" fill="#fff" stroke="#262626" stroke-width="0.80"/>
<circle cx="31.40" cy="307.75" r="1.75" fill="#fff" stroke="#262626" stroke-width="0.80"/>
<circle cx="33.25" cy="306.00" r="1.75" fill="#fff" stroke="#262626" stroke-width="0.80"/>
<circle cx="35.25" cy="304.00" r="1.75" fill="#fff" stroke="#262626" stroke-width="0.80"/>
<circle cx="38.25" cy="308.50" r="1.75" fill="#fff" stroke="#262626" stroke-width="0.80"/>
<circle cx="45.25" cy="322.25" r="1.75" fill="#fff" stroke="#262626" stroke-width="0.80"/>
<circle cx="58.25" cy="331.50" r="1.75" fill="#fff" stroke="#262626" stroke-width="0.80"/>
<circle cx="72.00" cy="337.20" r="1.75" fill="#fff" stroke="#262626" stroke-width="0.80"/>
<circle cx="104.75" cy="343.50" r="1.75" fill="#fff" stroke="#262626" stroke-width="0.80"/>
<path d="M31.40 327.95L33.25 324.54L29.55 324.54Z" fill="#fff" stroke="#262626" stroke-width="0.80"/>
<path d="M33.25 335.95L35.10 332.54L31.40 332.54Z" fill="#fff" stroke="#262626" stroke-width="0.80"/>
<path d="M35.25 330.95L37.10 327.54L33.40 327.54Z" fill="#fff" stroke="#262626" stroke-width="0.80"/>
<path d="M45.25 342.20L47.10 338.79L43.40 338.79Z" fill="#fff" stroke="#262626" stroke-width="0.80"/>
<path d="M58.25 339.70L60.10 336.29L56.40 336.29Z" fill="#fff" stroke="#262626" stroke-width="0.80"/>
<path d="M72.00 347.95L73.85 344.54L70.15 344.54Z" fill="#fff" stroke="#262626" stroke-width="0.80"/>
<path d="M111.25 352.95L113.10 349.54L109.40 349.54Z" fill="#fff" stroke="#262626" stroke-width="0.80"/>
<circle cx="131.25" cy="303.50" r="1.75" fill="#fff" stroke="#262626" stroke-width="0.80"/>
<path d="M168.00 312.45L170.05 314.50L168.00 316.55L165.95 314.50Z" fill="#fff" stroke="#262626" stroke-width="0.80"/>
<path d="M183.25 298.20L185.30 300.25L183.25 302.30L181.20 300.25Z" fill="#fff" stroke="#262626" stroke-width="0.80"/>
<circle cx="213.75" cy="252.00" r="1.75" fill="#fff" stroke="#262626" stroke-width="0.80"/>
<path d="M146.25 307.05L148.10 310.46L144.40 310.46Z" fill="#fff" stroke="#262626" stroke-width="0.80"/>
<path d="M168.25 292.55L170.10 295.96L166.40 295.96Z" fill="#fff" stroke="#262626" stroke-width="0.80"/>
<path d="M228.75 298.05L230.60 301.46L226.90 301.46Z" fill="#fff" stroke="#262626" stroke-width="0.80"/>
<circle cx="129.00" cy="333.70" r="1.75" fill="#fff" stroke="#262626" stroke-width="0.80"/>
<circle cx="153.00" cy="353.00" r="1.75" fill="#fff" stroke="#262626" stroke-width="0.80"/>
<circle cx="175.75" cy="355.75" r="1.75" fill="#fff" stroke="#262626" stroke-width="0.80"/>
<circle cx="129.00" cy="343.00" r="1.75" fill="#fff" stroke="#262626" stroke-width="0.80"/>
<circle cx="160.60" cy="326.60" r="1.75" fill="#fff" stroke="#262626" stroke-width="0.80"/>
<circle cx="168.00" cy="328.25" r="1.75" fill="#fff" stroke="#262626" stroke-width="0.80"/>
<circle cx="183.25" cy="326.00" r="1.75" fill="#fff" stroke="#262626" stroke-width="0.80"/>
<circle cx="213.75" cy="302.75" r="1.75" fill="#fff" stroke="#262626" stroke-width="0.80"/>
<circle cx="236.25" cy="302.75" r="1.75" fill="#fff" stroke="#262626" stroke-width="0.80"/>
<path d="M145.50 345.95L147.35 342.54L143.65 342.54Z" fill="#fff" stroke="#262626" stroke-width="0.80"/>
<path d="M168.00 346.70L169.85 343.29L166.15 343.29Z" fill="#fff" stroke="#262626" stroke-width="0.80"/>
<path d="M213.75 312.20L215.60 308.79L211.90 308.79Z" fill="#fff" stroke="#262626" stroke-width="0.80"/>
<path d="M297.50 214.40H380.50M391.60 214.40H518.50" fill="none" stroke="#606060" stroke-width="0.8"/>
<path d="M518.50 214.40V366.40" fill="none" stroke="#666" stroke-width="0.8"/>
<path d="M297.50 214.40V366.40H380.50M391.60 366.40H518.50" fill="none" stroke="#4a4a4a" stroke-width="1"/>
<path d="M377.40 218.75L385.80 210.05" stroke="#4a4a4a" stroke-width="0.8"/>
<path d="M386.30 218.75L394.70 210.05" stroke="#4a4a4a" stroke-width="0.8"/>
<path d="M377.40 370.75L385.80 362.05" stroke="#4a4a4a" stroke-width="0.8"/>
<path d="M386.30 370.75L394.70 362.05" stroke="#4a4a4a" stroke-width="0.8"/>
<path d="M295.10 366.40H297.50" stroke="#4a4a4a" stroke-width="0.8"/>
<text x="291.20" y="369.50" text-anchor="end" class="t">0</text>
<path d="M295.10 336.00H297.50" stroke="#4a4a4a" stroke-width="0.8"/>
<text x="291.20" y="339.10" text-anchor="end" class="t">1</text>
<path d="M295.10 305.60H297.50" stroke="#4a4a4a" stroke-width="0.8"/>
<text x="291.20" y="308.70" text-anchor="end" class="t">2</text>
<path d="M295.10 275.20H297.50" stroke="#4a4a4a" stroke-width="0.8"/>
<text x="291.20" y="278.30" text-anchor="end" class="t">3</text>
<path d="M295.10 244.80H297.50" stroke="#4a4a4a" stroke-width="0.8"/>
<text x="291.20" y="247.90" text-anchor="end" class="t">4</text>
<path d="M295.10 214.40H297.50" stroke="#4a4a4a" stroke-width="0.8"/>
<text x="291.20" y="217.50" text-anchor="end" class="t">5</text>
<path d="M297.50 366.40V368.60" stroke="#4a4a4a" stroke-width="0.8"/>
<text x="297.50" y="380.50" text-anchor="middle" class="t">0</text>
<path d="M338.75 366.40V368.60" stroke="#4a4a4a" stroke-width="0.8"/>
<text x="338.75" y="380.50" text-anchor="middle" class="t">25</text>
<path d="M406.25 366.40V368.60" stroke="#4a4a4a" stroke-width="0.8"/>
<text x="406.25" y="380.50" text-anchor="middle" class="t">100</text>
<path d="M437.70 366.40V368.60" stroke="#4a4a4a" stroke-width="0.8"/>
<text x="437.70" y="380.50" text-anchor="middle" class="t">200</text>
<path d="M469.40 366.40V368.60" stroke="#4a4a4a" stroke-width="0.8"/>
<text x="469.40" y="380.50" text-anchor="middle" class="t">300</text>
<path d="M501.20 366.40V368.60" stroke="#4a4a4a" stroke-width="0.8"/>
<text x="501.20" y="380.50" text-anchor="middle" class="t">400</text>
<text x="404.60" y="396.40" text-anchor="middle" class="a">Time (h)</text>
<text transform="translate(279.30 290.40) rotate(-90)" text-anchor="middle" class="a" style="font-size:9.85px;word-spacing:-0.60px">Percent Type 2 PS+ B-RBC</text>
<path d="M297.60 323.20L299.20 332.50L300.80 331.00L304.20 338.50L310.75 335.60L324.40 342.60L337.60 344.40L378.10 349.90" fill="none" stroke="#262626" stroke-width="0.90" stroke-linejoin="round"/>
<path d="M297.60 337.50L299.20 329.50L300.80 338.50L304.10 322.80L310.75 340.60L324.40 356.30L337.60 336.60L368.10 315.70" fill="none" stroke="#262626" stroke-width="0.90" stroke-linejoin="round"/>
<path d="M297.60 333.20L299.20 335.50L300.80 340.00L304.20 341.50L310.75 344.20L324.40 328.10L337.60 330.00L371.40 347.50" fill="none" stroke="#262626" stroke-width="0.90" stroke-linejoin="round"/>
<path d="M297.60 338.60L299.20 343.20L300.80 344.80L304.20 343.20L310.75 351.20L324.40 328.60L337.60 345.60L371.30 336.20" fill="none" stroke="#262626" stroke-width="0.90" stroke-linejoin="round"/>
<path d="M297.60 348.70L299.20 352.40L300.80 347.80L304.20 351.20L310.75 347.80L324.40 348.00L337.60 354.40L371.40 351.30" fill="none" stroke="#262626" stroke-width="0.90" stroke-linejoin="round"/>
<path d="M297.60 357.00L299.20 358.40L300.80 355.40L304.20 357.00L310.75 357.50L324.40 358.00L337.60 358.80L378.10 343.50" fill="none" stroke="#262626" stroke-width="0.90" stroke-linejoin="round"/>
<path d="M390.00 300.00L398.75 246.25L435.60 292.60L450.90 303.00L481.50 293.20" fill="none" stroke="#262626" stroke-width="0.90" stroke-linejoin="round"/>
<path d="M390.60 344.00L412.80 282.60L436.20 266.30L497.40 243.80" fill="none" stroke="#262626" stroke-width="0.90" stroke-linejoin="round"/>
<path d="M390.60 346.50L413.00 323.00L435.80 257.50L481.60 298.10" fill="none" stroke="#262626" stroke-width="0.90" stroke-linejoin="round"/>
<path d="M390.60 340.00L396.70 308.20L413.00 323.00L420.10 325.50L443.20 346.60" fill="none" stroke="#262626" stroke-width="0.90" stroke-linejoin="round"/>
<path d="M396.70 308.20L420.10 307.80" fill="none" stroke="#262626" stroke-width="0.90" stroke-linejoin="round"/>
<path d="M390.60 349.00L396.10 345.60L427.60 326.30L435.20 347.90L450.90 296.40L482.00 257.00L504.50 260.80" fill="none" stroke="#262626" stroke-width="0.90" stroke-linejoin="round"/>
<path d="M297.60 321.25L299.45 324.66L295.75 324.66Z" fill="#fff" stroke="#262626" stroke-width="0.80"/>
<path d="M299.20 330.55L301.05 333.96L297.35 333.96Z" fill="#fff" stroke="#262626" stroke-width="0.80"/>
<path d="M300.80 329.05L302.65 332.46L298.95 332.46Z" fill="#fff" stroke="#262626" stroke-width="0.80"/>
<path d="M304.20 336.55L306.05 339.96L302.35 339.96Z" fill="#fff" stroke="#262626" stroke-width="0.80"/>
<path d="M310.75 333.65L312.60 337.06L308.90 337.06Z" fill="#fff" stroke="#262626" stroke-width="0.80"/>
<path d="M324.40 340.65L326.25 344.06L322.55 344.06Z" fill="#fff" stroke="#262626" stroke-width="0.80"/>
<path d="M337.60 342.45L339.45 345.86L335.75 345.86Z" fill="#fff" stroke="#262626" stroke-width="0.80"/>
<path d="M378.10 347.95L379.95 351.36L376.25 351.36Z" fill="#fff" stroke="#262626" stroke-width="0.80"/>
<path d="M297.60 335.45L299.65 337.50L297.60 339.55L295.55 337.50Z" fill="#fff" stroke="#262626" stroke-width="0.80"/>
<path d="M299.20 327.45L301.25 329.50L299.20 331.55L297.15 329.50Z" fill="#fff" stroke="#262626" stroke-width="0.80"/>
<path d="M300.80 336.45L302.85 338.50L300.80 340.55L298.75 338.50Z" fill="#fff" stroke="#262626" stroke-width="0.80"/>
<path d="M304.10 320.75L306.15 322.80L304.10 324.85L302.05 322.80Z" fill="#fff" stroke="#262626" stroke-width="0.80"/>
<path d="M310.75 338.55L312.80 340.60L310.75 342.65L308.70 340.60Z" fill="#fff" stroke="#262626" stroke-width="0.80"/>
<path d="M324.40 354.25L326.45 356.30L324.40 358.35L322.35 356.30Z" fill="#fff" stroke="#262626" stroke-width="0.80"/>
<path d="M337.60 334.55L339.65 336.60L337.60 338.65L335.55 336.60Z" fill="#fff" stroke="#262626" stroke-width="0.80"/>
<path d="M368.10 313.65L370.15 315.70L368.10 317.75L366.05 315.70Z" fill="#fff" stroke="#262626" stroke-width="0.80"/>
<circle cx="297.60" cy="333.20" r="1.75" fill="#fff" stroke="#262626" stroke-width="0.80"/>
<circle cx="299.20" cy="335.50" r="1.75" fill="#fff" stroke="#262626" stroke-width="0.80"/>
<circle cx="300.80" cy="340.00" r="1.75" fill="#fff" stroke="#262626" stroke-width="0.80"/>
<circle cx="304.20" cy="341.50" r="1.75" fill="#fff" stroke="#262626" stroke-width="0.80"/>
<circle cx="310.75" cy="344.20" r="1.75" fill="#fff" stroke="#262626" stroke-width="0.80"/>
<circle cx="324.40" cy="328.10" r="1.75" fill="#fff" stroke="#262626" stroke-width="0.80"/>
<circle cx="337.60" cy="330.00" r="1.75" fill="#fff" stroke="#262626" stroke-width="0.80"/>
<circle cx="371.40" cy="347.50" r="1.75" fill="#fff" stroke="#262626" stroke-width="0.80"/>
<rect x="296.00" y="337.00" width="3.20" height="3.20" fill="#fff" stroke="#262626" stroke-width="0.80"/>
<rect x="297.60" y="341.60" width="3.20" height="3.20" fill="#fff" stroke="#262626" stroke-width="0.80"/>
<rect x="299.20" y="343.20" width="3.20" height="3.20" fill="#fff" stroke="#262626" stroke-width="0.80"/>
<rect x="302.60" y="341.60" width="3.20" height="3.20" fill="#fff" stroke="#262626" stroke-width="0.80"/>
<rect x="309.15" y="349.60" width="3.20" height="3.20" fill="#fff" stroke="#262626" stroke-width="0.80"/>
<rect x="336.00" y="344.00" width="3.20" height="3.20" fill="#fff" stroke="#262626" stroke-width="0.80"/>
<rect x="369.70" y="334.60" width="3.20" height="3.20" fill="#fff" stroke="#262626" stroke-width="0.80"/>
<circle cx="297.60" cy="348.70" r="1.75" fill="#fff" stroke="#262626" stroke-width="0.80"/>
<circle cx="299.20" cy="352.40" r="1.75" fill="#fff" stroke="#262626" stroke-width="0.80"/>
<circle cx="300.80" cy="347.80" r="1.75" fill="#fff" stroke="#262626" stroke-width="0.80"/>
<circle cx="304.20" cy="351.20" r="1.75" fill="#fff" stroke="#262626" stroke-width="0.80"/>
<circle cx="310.75" cy="347.80" r="1.75" fill="#fff" stroke="#262626" stroke-width="0.80"/>
<circle cx="324.40" cy="348.00" r="1.75" fill="#fff" stroke="#262626" stroke-width="0.80"/>
<circle cx="337.60" cy="354.40" r="1.75" fill="#fff" stroke="#262626" stroke-width="0.80"/>
<circle cx="371.40" cy="351.30" r="1.75" fill="#fff" stroke="#262626" stroke-width="0.80"/>
<path d="M297.60 358.95L299.45 355.54L295.75 355.54Z" fill="#fff" stroke="#262626" stroke-width="0.80"/>
<path d="M299.20 360.35L301.05 356.94L297.35 356.94Z" fill="#fff" stroke="#262626" stroke-width="0.80"/>
<path d="M300.80 357.35L302.65 353.94L298.95 353.94Z" fill="#fff" stroke="#262626" stroke-width="0.80"/>
<path d="M304.20 358.95L306.05 355.54L302.35 355.54Z" fill="#fff" stroke="#262626" stroke-width="0.80"/>
<path d="M310.75 359.45L312.60 356.04L308.90 356.04Z" fill="#fff" stroke="#262626" stroke-width="0.80"/>
<path d="M324.40 359.95L326.25 356.54L322.55 356.54Z" fill="#fff" stroke="#262626" stroke-width="0.80"/>
<path d="M337.60 360.75L339.45 357.34L335.75 357.34Z" fill="#fff" stroke="#262626" stroke-width="0.80"/>
<path d="M378.10 345.45L379.95 342.04L376.25 342.04Z" fill="#fff" stroke="#262626" stroke-width="0.80"/>
<path d="M398.75 244.20L400.80 246.25L398.75 248.30L396.70 246.25Z" fill="#fff" stroke="#262626" stroke-width="0.80"/>
<circle cx="435.60" cy="292.60" r="1.75" fill="#fff" stroke="#262626" stroke-width="0.80"/>
<path d="M450.90 300.95L452.95 303.00L450.90 305.05L448.85 303.00Z" fill="#fff" stroke="#262626" stroke-width="0.80"/>
<path d="M481.50 291.15L483.55 293.20L481.50 295.25L479.45 293.20Z" fill="#fff" stroke="#262626" stroke-width="0.80"/>
<path d="M412.80 280.65L414.65 284.06L410.95 284.06Z" fill="#fff" stroke="#262626" stroke-width="0.80"/>
<path d="M436.20 264.35L438.05 267.76L434.35 267.76Z" fill="#fff" stroke="#262626" stroke-width="0.80"/>
<path d="M497.40 241.85L499.25 245.26L495.55 245.26Z" fill="#fff" stroke="#262626" stroke-width="0.80"/>
<circle cx="413.00" cy="323.00" r="1.75" fill="#fff" stroke="#262626" stroke-width="0.80"/>
<path d="M435.80 259.45L437.65 256.04L433.95 256.04Z" fill="#fff" stroke="#262626" stroke-width="0.80"/>
<path d="M481.60 300.05L483.45 296.64L479.75 296.64Z" fill="#fff" stroke="#262626" stroke-width="0.80"/>
<circle cx="396.70" cy="308.20" r="1.75" fill="#fff" stroke="#262626" stroke-width="0.80"/>
<circle cx="420.10" cy="325.50" r="1.75" fill="#fff" stroke="#262626" stroke-width="0.80"/>
<circle cx="443.20" cy="346.60" r="1.75" fill="#fff" stroke="#262626" stroke-width="0.80"/>
<rect x="418.50" y="306.20" width="3.20" height="3.20" fill="#fff" stroke="#262626" stroke-width="0.80"/>
<circle cx="396.10" cy="345.60" r="1.75" fill="#fff" stroke="#262626" stroke-width="0.80"/>
<circle cx="427.60" cy="326.30" r="1.75" fill="#fff" stroke="#262626" stroke-width="0.80"/>
<circle cx="435.20" cy="347.90" r="1.75" fill="#fff" stroke="#262626" stroke-width="0.80"/>
<circle cx="450.90" cy="296.40" r="1.75" fill="#fff" stroke="#262626" stroke-width="0.80"/>
<circle cx="482.00" cy="257.00" r="1.75" fill="#fff" stroke="#262626" stroke-width="0.80"/>
<circle cx="504.50" cy="260.80" r="1.75" fill="#fff" stroke="#262626" stroke-width="0.80"/>
</svg>
</body></html>
